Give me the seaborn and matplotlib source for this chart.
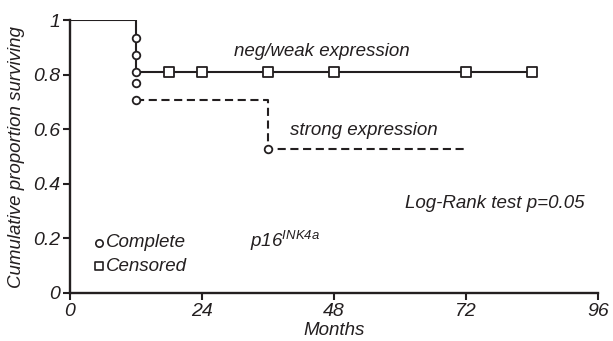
import matplotlib
matplotlib.use("Agg")
import matplotlib.pyplot as plt
import seaborn as sns
import pandas as pd

# survival curves (months, cumulative proportion surviving)
weak_months = [0, 12, 84]
weak_surv = [1.0, 0.8125, 0.8125]
strong_months = [12, 36, 72]
strong_surv = [0.707, 0.529, 0.529]

# complete (events) and censored marks
complete_months = [12, 12, 12, 12, 12, 36]
complete_surv = [0.9375, 0.875, 0.8125, 0.769, 0.707, 0.529]
censored_months = [18, 24, 36, 48, 72, 84]
censored_surv = [0.8125] * 6

x_ticks = [0, 24, 48, 72, 96]
y_ticks = [0, 0.2, 0.4, 0.6, 0.8, 1]
y_labels = ["0", "0.2", "0.4", "0.6", "0.8", "1"]

sns.set_style("ticks")
plt.rcParams["font.family"] = ["Liberation Sans", "DejaVu Sans"]
plt.rcParams["font.style"] = "italic"
plt.rcParams["mathtext.fontset"] = "custom"
plt.rcParams["mathtext.it"] = "Liberation Sans:italic"
plt.rcParams["mathtext.rm"] = "Liberation Sans:italic"

fig = plt.figure(figsize=(6.13, 3.41), dpi=100)
ax = fig.add_axes([0.1142, 0.1408, 0.8613, 0.7991])

weak = pd.DataFrame({"m": weak_months, "s": weak_surv})
strong = pd.DataFrame({"m": strong_months, "s": strong_surv})

ink = "#231f20"
sns.lineplot(data=weak, x="m", y="s", ax=ax, color=ink, lw=1.5,
             drawstyle="steps-post", sort=False, estimator=None, zorder=2)
sns.lineplot(data=strong, x="m", y="s", ax=ax, color=ink, lw=1.5,
             drawstyle="steps-post", sort=False, estimator=None, zorder=2)
ax.lines[-1].set_dashes((3.9, 2.2))

sns.scatterplot(x=complete_months, y=complete_surv, ax=ax, marker="o", s=30,
                facecolor="white", edgecolor=ink, linewidth=1.3, zorder=3,
                clip_on=False)
sns.scatterplot(x=censored_months, y=censored_surv, ax=ax, marker="s", s=45,
                facecolor="white", edgecolor=ink, linewidth=1.3, zorder=3,
                clip_on=False)

ax.set_xlim(0, 96)
ax.set_ylim(0, 1)
ax.set_xticks(x_ticks)
ax.set_xticklabels([str(t) for t in x_ticks])
ax.set_yticks(y_ticks)
ax.set_yticklabels(y_labels)
ax.tick_params(labelsize=14, length=5, width=1.5, color=ink,
               labelcolor=ink, pad=2)
for side in ["left", "bottom"]:
    ax.spines[side].set_linewidth(1.7)
    ax.spines[side].set_color(ink)
sns.despine(ax=ax)

ax.set_xlabel("Months", fontsize=13.5, color=ink, labelpad=2)
ax.set_ylabel("Cumulative proportion surviving", fontsize=13.5,
              color=ink, labelpad=6)

tk = dict(color=ink, fontsize=13.5)
ax.text(45.7, 0.885, "neg/weak expression", ha="center", va="center", **tk)
ax.text(53.4, 0.597, "strong expression", ha="center", va="center", **tk)
ax.text(77.2, 0.33, "Log-Rank test p=0.05", ha="center", va="center", **tk)
ax.text(32.8, 0.19, r"p16$^{INK4a}$", ha="left", va="center", **tk)

ax.scatter([5.2], [0.185], marker="o", s=28, facecolor="white",
           edgecolor=ink, linewidth=1.2, clip_on=False)
ax.text(6.5, 0.185, "Complete", ha="left", va="center", **tk)
ax.scatter([5.2], [0.099], marker="s", s=40, facecolor="white",
           edgecolor=ink, linewidth=1.2, clip_on=False)
ax.text(6.5, 0.099, "Censored", ha="left", va="center", **tk)

fig.savefig("out.png", dpi=100)
